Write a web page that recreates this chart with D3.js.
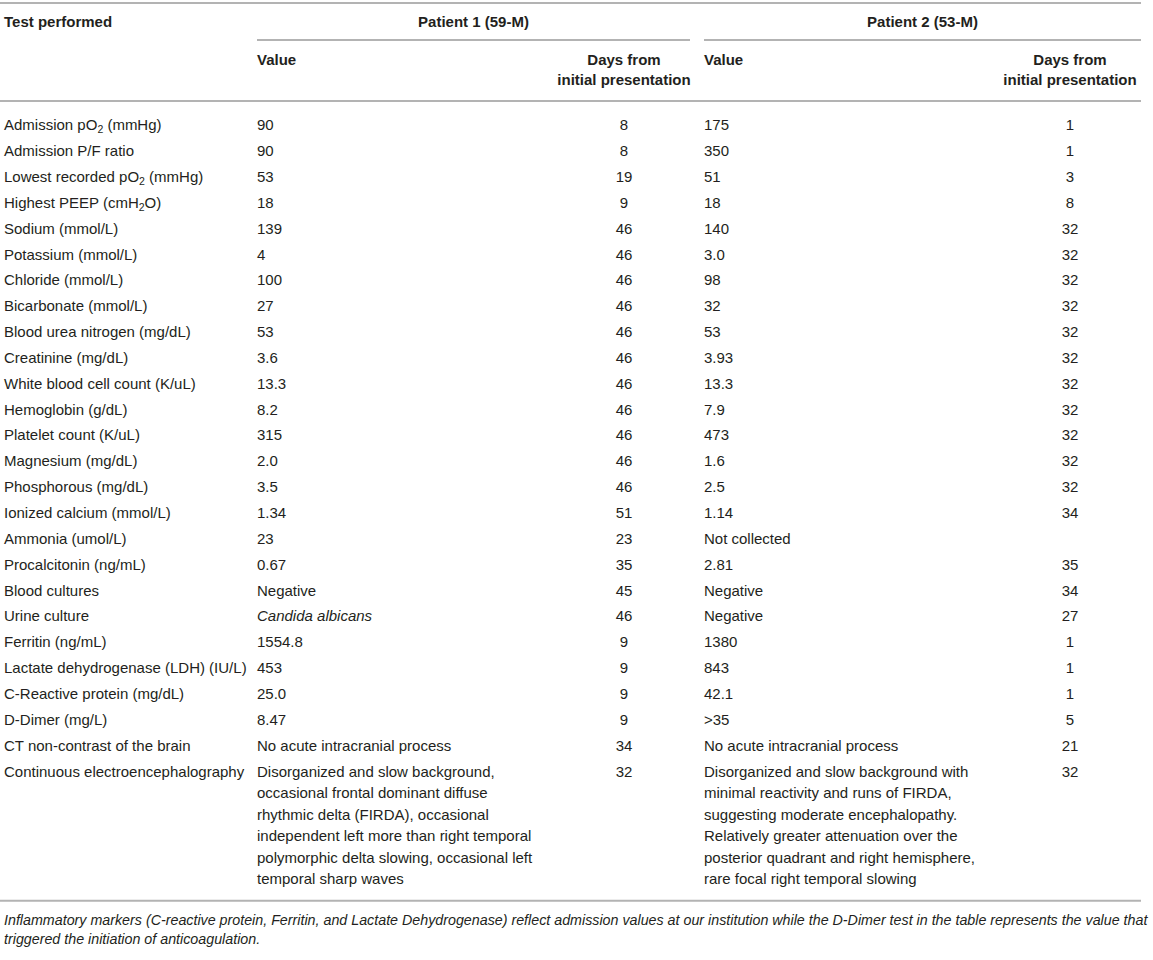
<!DOCTYPE html>
<html>
<head>
<meta charset="utf-8">
<script src="https://cdn.jsdelivr.net/npm/d3@7"></script>
<style>
	body { margin: 0; background: #fff; }
	text { font-family: "Liberation Sans", Arial, sans-serif; fill: #231f20; }
</style>
</head>
<body>
<svg id="chart"></svg>
<script>
// table content, {2} marks a subscript, _x_ marks italics
const tests = [
	"Admission pO{2} (mmHg)", "Admission P/F ratio", "Lowest recorded pO{2} (mmHg)", "Highest PEEP (cmH{2}O)",
	"Sodium (mmol/L)", "Potassium (mmol/L)", "Chloride (mmol/L)", "Bicarbonate (mmol/L)",
	"Blood urea nitrogen (mg/dL)", "Creatinine (mg/dL)", "White blood cell count (K/uL)", "Hemoglobin (g/dL)",
	"Platelet count (K/uL)", "Magnesium (mg/dL)", "Phosphorous (mg/dL)", "Ionized calcium (mmol/L)",
	"Ammonia (umol/L)", "Procalcitonin (ng/mL)", "Blood cultures", "Urine culture",
	"Ferritin (ng/mL)", "Lactate dehydrogenase (LDH) (IU/L)", "C-Reactive protein (mg/dL)", "D-Dimer (mg/L)",
	"CT non-contrast of the brain", "Continuous electroencephalography"
];
const p1Value = ["90", "90", "53", "18", "139", "4", "100", "27", "53", "3.6", "13.3", "8.2", "315", "2.0", "3.5", "1.34",
	"23", "0.67", "Negative", "_Candida albicans_", "1554.8", "453", "25.0", "8.47", "No acute intracranial process"];
const p1Days = ["8", "8", "19", "9", "46", "46", "46", "46", "46", "46", "46", "46", "46", "46", "46", "51",
	"23", "35", "45", "46", "9", "9", "9", "9", "34", "32"];
const p2Value = ["175", "350", "51", "18", "140", "3.0", "98", "32", "53", "3.93", "13.3", "7.9", "473", "1.6", "2.5", "1.14",
	"Not collected", "2.81", "Negative", "Negative", "1380", "843", "42.1", ">35", "No acute intracranial process"];
const p2Days = ["1", "1", "3", "8", "32", "32", "32", "32", "32", "32", "32", "32", "32", "32", "32", "34",
	"", "35", "34", "27", "1", "1", "1", "5", "21", "32"];

const p1Eeg = [
	"Disorganized and slow background,",
	"occasional frontal dominant diffuse",
	"rhythmic delta (FIRDA), occasional",
	"independent left more than right temporal",
	"polymorphic delta slowing, occasional left",
	"temporal sharp waves"
];
const p2Eeg = [
	"Disorganized and slow background with",
	"minimal reactivity and runs of FIRDA,",
	"suggesting moderate encephalopathy.",
	"Relatively greater attenuation over the",
	"posterior quadrant and right hemisphere,",
	"rare focal right temporal slowing"
];

const patients = ["Patient 1 (59-M)", "Patient 2 (53-M)"];
const subHeads = ["Value", "Days from|initial presentation"];
const footnote = [
	"Inflammatory markers (C-reactive protein, Ferritin, and Lactate Dehydrogenase) reflect admission values at our institution while the D-Dimer test in the table represents the value that",
	"triggered the initiation of anticoagulation."
];

const width = 1153, height = 960;
const fontSize = 15;
const lineColor = "#b3b3b3";

const svg = d3.select("#chart")
	.attr("width", width)
	.attr("height", height);

// column layout
const col = {
	test: 4,
	p1Value: 257, p1Days: 624, p1Right: 690,
	p2Value: 704, p2Days: 1070, p2Right: 1141
};

// row positions (text centre lines)
let y = d3.scaleLinear()
	.domain([0, 1])
	.range([125, 125 + 25.85]);
const eegLine = 21.5;

// write a label into a text element, handling subscripts and italics
function writeRich(sel, str) {
	let parts = str.split(/(\{\d\}|_[^_]+_)/).filter(s => s.length);
	let shift = 0;
	parts.forEach(p => {
		let t = sel.append("tspan");
		if (p[0] === "{") {
			t.attr("font-size", fontSize * 0.7)
				.attr("dy", 3 - shift)
				.text(p.slice(1, -1));
			shift = 3;
			return;
		}
		if (shift) {
			t.attr("dy", -shift);
			shift = 0;
		}
		if (p[0] === "_") {
			t.attr("font-style", "italic").text(p.slice(1, -1));
		} else {
			t.text(p);
		}
	});
}

function hline(x1, x2, yy) {
	svg.append("line")
		.attr("x1", x1).attr("x2", x2)
		.attr("y1", yy).attr("y2", yy)
		.attr("stroke", lineColor)
		.attr("stroke-width", 2);
}

// rules
hline(0, col.p2Right, 3);
hline(col.p1Value, col.p1Right, 40);
hline(col.p2Value, col.p2Right, 40);
hline(0, col.p2Right, 101);

// header
let header = svg.append("g")
	.attr("font-weight", "bold")
	.attr("font-size", fontSize);

header.append("text")
	.attr("x", col.test)
	.attr("y", 22)
	.attr("dy", "0.35em")
	.text("Test performed");

header.selectAll(".patient")
	.data(patients)
	.enter()
	.append("text")
		.attr("class", "patient")
		.attr("x", (d, i) => i === 0 ? (col.p1Value + col.p1Right) / 2 : (col.p2Value + col.p2Right) / 2)
		.attr("y", 22)
		.attr("dy", "0.35em")
		.attr("text-anchor", "middle")
		.text(d => d);

[[col.p1Value, col.p1Days], [col.p2Value, col.p2Days]].forEach(xs => {
	header.append("text")
		.attr("x", xs[0])
		.attr("y", 60)
		.attr("dy", "0.35em")
		.text(subHeads[0]);
	subHeads[1].split("|").forEach((t, i) => {
		header.append("text")
			.attr("x", xs[1])
			.attr("y", 60 + i * 20)
			.attr("dy", "0.35em")
			.attr("text-anchor", "middle")
			.text(t);
	});
});

// body
let body = svg.append("g")
	.attr("font-size", fontSize);

let rows = body.selectAll(".row")
	.data(tests)
	.enter()
	.append("g")
		.attr("class", "row")
		.attr("transform", (d, i) => "translate(0," + y(i) + ")");

rows.append("text")
	.attr("x", col.test)
	.attr("dy", "0.35em")
	.each(function(d) { writeRich(d3.select(this), d); });

rows.append("text")
	.attr("x", col.p1Value)
	.attr("dy", "0.35em")
	.each(function(d, i) { if (p1Value[i]) writeRich(d3.select(this), p1Value[i]); });

rows.append("text")
	.attr("x", col.p1Days)
	.attr("dy", "0.35em")
	.attr("text-anchor", "middle")
	.text((d, i) => p1Days[i]);

rows.append("text")
	.attr("x", col.p2Value)
	.attr("dy", "0.35em")
	.each(function(d, i) { if (p2Value[i]) writeRich(d3.select(this), p2Value[i]); });

rows.append("text")
	.attr("x", col.p2Days)
	.attr("dy", "0.35em")
	.attr("text-anchor", "middle")
	.text((d, i) => p2Days[i]);

// multi-line EEG cells
let eegY = y(tests.length - 1);
[[col.p1Value, p1Eeg], [col.p2Value, p2Eeg]].forEach(c => {
	body.selectAll(null)
		.data(c[1])
		.enter()
		.append("text")
			.attr("x", c[0])
			.attr("y", (d, i) => eegY + i * eegLine)
			.attr("dy", "0.35em")
			.text(d => d);
});

let bottom = eegY + (p1Eeg.length - 1) * eegLine + 22;
hline(0, col.p2Right, bottom);

// footnote, sized to span the table width
let foot = svg.append("g")
	.attr("font-style", "italic")
	.attr("font-size", 14);

let f0 = foot.append("text")
	.attr("x", col.test)
	.attr("y", bottom + 19)
	.attr("dy", "0.35em")
	.text(footnote[0]);
let fs = 14 * (col.p2Right + 8 - col.test) / f0.node().getComputedTextLength();
foot.attr("font-size", fs);

foot.append("text")
	.attr("x", col.test)
	.attr("y", bottom + 38)
	.attr("dy", "0.35em")
	.text(footnote[1]);
</script>
</body>
</html>
